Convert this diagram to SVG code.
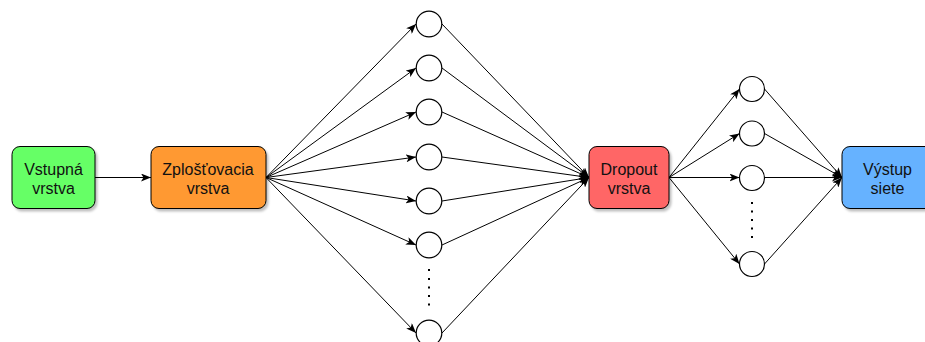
<svg xmlns="http://www.w3.org/2000/svg" width="925" height="342" viewBox="0 0 925 342">
  <defs>
    <marker id="arrow" markerUnits="userSpaceOnUse" viewBox="0 0 10 8" markerWidth="10" markerHeight="8" refX="10" refY="4" orient="auto">
      <path d="M0,0 L10,4 L0,8 L2.5,4 Z" fill="#000"/>
    </marker>
    <filter id="shadow" x="-10%" y="-10%" width="130%" height="130%">
      <feDropShadow dx="2" dy="2.5" stdDeviation="1" flood-color="#000" flood-opacity="0.25"/>
    </filter>
  </defs>
  <style>
    .box { stroke: #000; stroke-width: 1; filter: url(#shadow); }
    .neuron { fill: #fff; stroke: #000; stroke-width: 1.2; }
    .edge { fill: none; stroke: #000; stroke-width: 1; }
    .arr { marker-end: url(#arrow); }
    .dots { fill: #000; }
    text { font-family: "Liberation Sans", Arial, sans-serif; font-size: 16px; fill: #111; text-anchor: middle; }
  </style>
  <rect width="925" height="342" fill="#fff"/>

  <!-- connectors -->
  <g id="connectors">
    <line class="edge arr" x1="95" y1="177.5" x2="151" y2="177.5"/>
    <!-- flatten layer to dense units -->
    <line class="edge arr" x1="266" y1="177.5" x2="416" y2="24"/>
    <line class="edge arr" x1="266" y1="177.5" x2="416" y2="68"/>
    <line class="edge arr" x1="266" y1="177.5" x2="416" y2="112"/>
    <line class="edge arr" x1="266" y1="177.5" x2="416" y2="157"/>
    <line class="edge arr" x1="266" y1="177.5" x2="416" y2="201"/>
    <line class="edge arr" x1="266" y1="177.5" x2="416" y2="245"/>
    <line class="edge arr" x1="266" y1="177.5" x2="416" y2="333"/>
    <!-- dense units to dropout -->
    <line class="edge arr" x1="442" y1="24" x2="589" y2="177.5"/>
    <line class="edge arr" x1="442" y1="68" x2="589" y2="177.5"/>
    <line class="edge arr" x1="442" y1="112" x2="589" y2="177.5"/>
    <line class="edge arr" x1="442" y1="157" x2="589" y2="177.5"/>
    <line class="edge arr" x1="442" y1="201" x2="589" y2="177.5"/>
    <line class="edge arr" x1="442" y1="245" x2="589" y2="177.5"/>
    <line class="edge arr" x1="442" y1="333" x2="589" y2="177.5"/>
    <!-- dropout to second layer -->
    <line class="edge arr" x1="669" y1="177.5" x2="739.5" y2="89"/>
    <line class="edge arr" x1="669" y1="177.5" x2="739.5" y2="133.5"/>
    <line class="edge arr" x1="669" y1="177.5" x2="739.5" y2="177.5"/>
    <line class="edge arr" x1="669" y1="177.5" x2="739.5" y2="264"/>
    <!-- second layer to output -->
    <line class="edge arr" x1="764.5" y1="89" x2="842" y2="177.5"/>
    <line class="edge arr" x1="764.5" y1="133.5" x2="842" y2="177.5"/>
    <line class="edge arr" x1="764.5" y1="177.5" x2="842" y2="177.5"/>
    <line class="edge arr" x1="764.5" y1="264" x2="842" y2="177.5"/>
  </g>

  <g id="input">
    <rect class="box" x="12" y="146.5" width="83" height="62" rx="8" fill="#66FF66"/>
    <text x="53.5" y="175">Vstupná</text>
    <text x="53.5" y="194">vrstva</text>
  </g>

  <g id="flatten">
    <rect class="box" x="151" y="146.5" width="115" height="62" rx="8" fill="#FF9933"/>
    <text x="208" y="175">Zplošťovacia</text>
    <text x="208" y="194">vrstva</text>
  </g>

  <g id="dense1">
    <circle class="neuron" cx="429" cy="24" r="12.8"/>
    <circle class="neuron" cx="429" cy="68" r="12.8"/>
    <circle class="neuron" cx="429" cy="112" r="12.8"/>
    <circle class="neuron" cx="429" cy="157" r="12.8"/>
    <circle class="neuron" cx="429" cy="201" r="12.8"/>
    <circle class="neuron" cx="429" cy="245" r="12.8"/>
    <circle class="neuron" cx="429" cy="333" r="12.8"/>
    <g class="dots">
      <rect x="428" y="269" width="2" height="2"/>
      <rect x="428" y="278" width="2" height="2"/>
      <rect x="428" y="286.5" width="2" height="2"/>
      <rect x="428" y="295" width="2" height="2"/>
      <rect x="428" y="303.5" width="2" height="2"/>
    </g>
  </g>

  <g id="dropout">
    <rect class="box" x="589" y="146.5" width="80" height="62" rx="8" fill="#FF6666"/>
    <text x="629" y="175">Dropout</text>
    <text x="629" y="194">vrstva</text>
  </g>

  <g id="dense2">
    <circle class="neuron" cx="752" cy="89" r="12.5"/>
    <circle class="neuron" cx="752" cy="133.5" r="12.5"/>
    <circle class="neuron" cx="752" cy="178" r="12.5"/>
    <circle class="neuron" cx="752" cy="264" r="12.5"/>
    <g class="dots">
      <rect x="751" y="202" width="2" height="2"/>
      <rect x="751" y="210.5" width="2" height="2"/>
      <rect x="751" y="219" width="2" height="2"/>
      <rect x="751" y="227.5" width="2" height="2"/>
      <rect x="751" y="236" width="2" height="2"/>
    </g>
  </g>

  <g id="output">
    <rect class="box" x="842" y="146.5" width="91" height="62" rx="8" fill="#66B2FF"/>
    <text x="887.5" y="175">Výstup</text>
    <text x="887.5" y="194">siete</text>
  </g>
</svg>
